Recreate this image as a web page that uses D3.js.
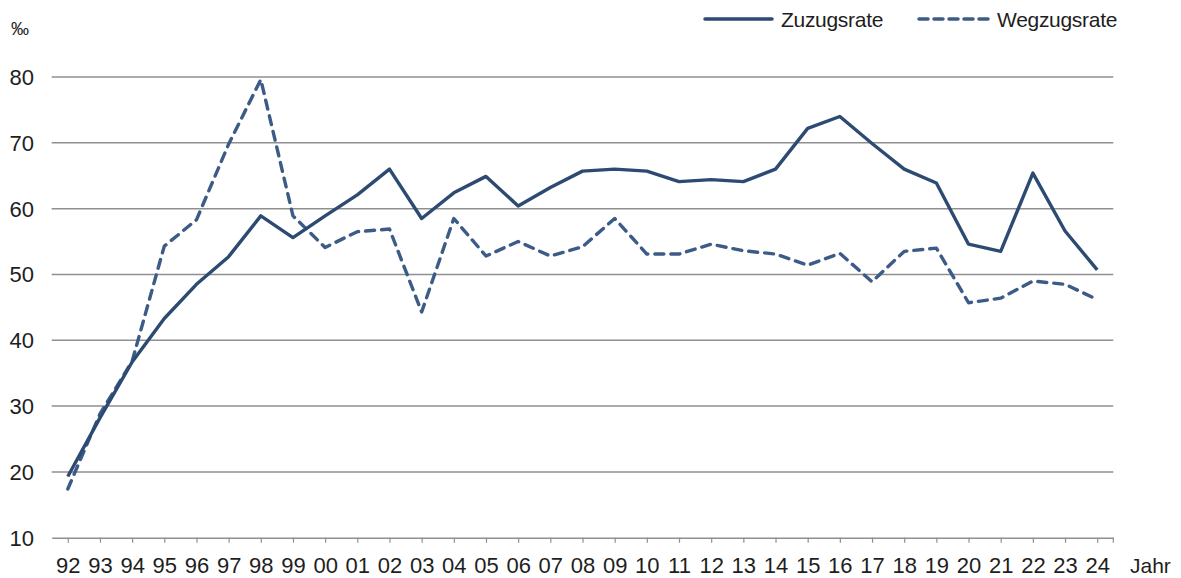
<!DOCTYPE html>
<html>
<head>
<meta charset="utf-8">
<script src="https://cdn.jsdelivr.net/npm/d3@7"></script>
<style>
  html, body { margin: 0; padding: 0; background: #fff; }
  svg { display: block; }
  text { font-family: "Liberation Sans", Arial, Helvetica, sans-serif; fill: #1e1e1e; }
</style>
</head>
<body>
<svg id="chart" width="1181" height="578"></svg>
<script>
// Jahre (zweistellig) und Raten in Promille
const years = ["92","93","94","95","96","97","98","99","00","01","02","03","04","05","06","07","08","09","10","11","12","13","14","15","16","17","18","19","20","21","22","23","24"];
const zuzugsrate = [19.3, 28.2, 36.7, 43.3, 48.5, 52.7, 58.9, 55.6, 58.9, 62.1, 66.0, 58.5, 62.4, 64.9, 60.4, 63.2, 65.7, 66.0, 65.7, 64.1, 64.4, 64.1, 66.0, 72.2, 74.0, 69.9, 66.0, 63.9, 54.6, 53.5, 65.4, 56.6, 50.7];
const wegzugsrate = [17.4, 28.8, 36.8, 54.3, 58.3, 69.8, 79.6, 58.9, 54.1, 56.5, 56.9, 44.3, 58.5, 52.8, 55.0, 52.8, 54.2, 58.5, 53.1, 53.1, 54.6, 53.6, 53.1, 51.4, 53.2, 48.9, 53.5, 54.0, 45.7, 46.4, 49.0, 48.5, 46.2];
const yTicks = [10, 20, 30, 40, 50, 60, 70, 80];
const seriesNames = ["Zuzugsrate", "Wegzugsrate"];

const svg = d3.select("#chart");
const plot = { left: 51.7, right: 1113.3, top: 77, bottom: 537.7 };

const x = d3.scalePoint().domain(years).range([plot.left, plot.right]).padding(0.5);
const y = d3.scaleLinear().domain([10, 80]).range([plot.bottom, plot.top]);

// horizontale Gitterlinien
svg.append("g")
  .selectAll("line")
  .data(yTicks.filter(d => d > 10))
  .join("line")
  .attr("x1", plot.left).attr("x2", plot.right)
  .attr("y1", d => y(d)).attr("y2", d => y(d))
  .attr("stroke", "#8f8f8f").attr("stroke-width", 1.5);

// y-Achsenbeschriftung
svg.append("g")
  .selectAll("text")
  .data(yTicks)
  .join("text")
  .attr("x", 34).attr("y", d => y(d)).attr("dy", "0.36em")
  .attr("text-anchor", "end")
  .style("font-size", "22px")
  .text(d => d);

svg.append("text").attr("x", 11).attr("y", 35).style("font-size", "18px").text("‰");

// x-Achse
const xAxis = svg.append("g")
  .attr("transform", `translate(0,${plot.bottom})`)
  .call(d3.axisBottom(x).tickSize(5).tickSizeOuter(0).tickPadding(15));
xAxis.select(".domain").attr("stroke", "#8f8f8f").attr("stroke-width", 1.5);
xAxis.selectAll(".tick line").attr("stroke", "#8f8f8f").attr("stroke-width", 1.2);
xAxis.selectAll(".tick text")
  .attr("fill", "#1e1e1e")
  .style("font-family", "'Liberation Sans', Arial, sans-serif")
  .style("font-size", "22px");
xAxis.append("line")
  .attr("x1", plot.right).attr("x2", plot.right).attr("y1", 0).attr("y2", 5)
  .attr("stroke", "#8f8f8f").attr("stroke-width", 1.2);

svg.append("text").attr("x", 1130).attr("y", 573).style("font-size", "21px").text("Jahr");

// Linien
const line = d3.line().x((d, i) => x(years[i])).y(d => y(d));

svg.append("path")
  .datum(wegzugsrate)
  .attr("d", line)
  .attr("fill", "none")
  .attr("stroke", "#3d5b87")
  .attr("stroke-width", 3.4)
  .attr("stroke-dasharray", "9,7")
  .attr("stroke-linecap", "round")
  .attr("stroke-linejoin", "round");

svg.append("path")
  .datum(zuzugsrate)
  .attr("d", line)
  .attr("fill", "none")
  .attr("stroke", "#2c4a72")
  .attr("stroke-width", 3.4)
  .attr("stroke-linejoin", "round");

// Legende
const legend = [
  { name: seriesNames[0], x1: 705, x2: 772, tx: 781, dash: null, color: "#2c4a72" },
  { name: seriesNames[1], x1: 919, x2: 988, tx: 997, dash: "9,6", color: "#3d5b87" }
];
const lg = svg.append("g").selectAll("g").data(legend).join("g");
lg.append("line")
  .attr("x1", d => d.x1).attr("x2", d => d.x2).attr("y1", 19).attr("y2", 19)
  .attr("stroke", d => d.color).attr("stroke-width", 3.5)
  .attr("stroke-linecap", "round")
  .attr("stroke-dasharray", d => d.dash);
lg.append("text")
  .attr("x", d => d.tx).attr("y", 27)
  .style("font-size", "21px")
  .style("letter-spacing", "-0.3px")
  .text(d => d.name);
</script>
</body>
</html>
